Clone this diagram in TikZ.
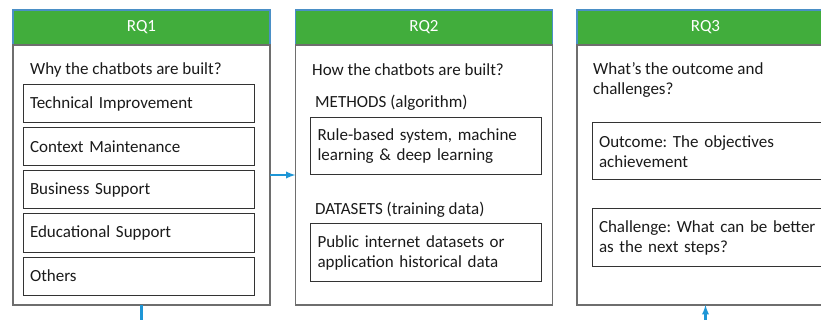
\documentclass[tikz,border=0pt]{standalone}
\usepackage{fontspec}
\setmainfont{Carlito}
\usepackage{tikz}
\usetikzlibrary{shapes}
\usetikzlibrary{arrows}
\usetikzlibrary{positioning}
\frenchspacing

\definecolor{rqgreen}{HTML}{41AD3C}
\definecolor{rqblue}{HTML}{4A8FC6}
\definecolor{rqgray}{HTML}{6E6E6E}
\definecolor{boxline}{HTML}{333333}
\definecolor{flowblue}{HTML}{1E96D6}
\definecolor{txt}{HTML}{1A1A1A}

\begin{document}
\begin{tikzpicture}[x=1pt,y=-1pt]
\tikzstyle{header} = [rectangle, draw=rqblue, line width=1.2pt, fill=rqgreen,
minimum width=257pt, minimum height=35pt, inner sep=0pt, outer sep=0pt,
text=white, font=\fontsize{17}{20}\selectfont]
\tikzstyle{panel} = [rectangle, draw=rqgray, line width=1.5pt,
minimum width=257pt, minimum height=260pt, inner sep=0pt, outer sep=0pt]
\tikzstyle{item} = [rectangle, draw=boxline, line width=1pt, text=txt,
minimum width=231pt, text width=217pt, inner xsep=7pt, inner ysep=0pt,
outer sep=0pt, align=left, font=\fontsize{17}{20}\selectfont]
\tikzstyle{label} = [anchor=west, inner sep=0pt, text=txt, align=left,
font=\fontsize{17}{20}\selectfont]
\tikzstyle{flow} = [draw=flowblue, line width=2.2pt]
\useasboundingbox (0,0) rectangle (821,320);
% RQ1
\node [header] (head1) at (141.5,27.5) {RQ1};
\node [panel, below=0pt of head1] (body1) {};
\node [label] (why) at (30,70) {Why the chatbots are built?};
\node [item, minimum height=38pt, below right=40pt and 10pt of body1.north west] (tech) {Technical Improvement};
\node [item, minimum height=38pt, below=5pt of tech] (context) {Context Maintenance};
\node [item, minimum height=38pt, below=5pt of context] (business) {Business Support};
\node [item, minimum height=38pt, below=5pt of business] (education) {Educational Support};
\node [item, minimum height=38pt, below=5pt of education] (others) {Others};
% RQ2
\node [header] (head2) at (424,27.5) {RQ2};
\node [panel, below=0pt of head2] (body2) {};
\node [label] (how) at (312,70) {How the chatbots are built?};
\node [label] (methods) at (315,103) {METHODS (algorithm)};
\node [item, minimum height=57pt, below right=73pt and 15pt of body2.north west] (algo) {Rule-based system, machine\\learning \& deep learning};
\node [label] (datasets) at (315,210) {DATASETS (training data)};
\node [item, minimum height=57pt, below=49pt of algo] (data) {Public internet datasets or\\application historical data};
% RQ3
\node [header] (head3) at (705.5,27.5) {RQ3};
\node [panel, below=0pt of head3] (body3) {};
\node [label] (what) at (593,80) {What’s the outcome and\\challenges?};
\node [item, minimum height=57pt, below right=78pt and 15pt of body3.north west] (outcome) {Outcome: The objectives\\achievement};
\node [item, minimum height=57pt, below=29pt of outcome] (challenge) {Challenge: What can be better\\as the next steps?};
% connectors
\coordinate [below=20pt of body1.south] (out1);
\coordinate [below=20pt of body3.south] (in3);
\draw[->,>=latex, flow] (body1.east) -- (body2.west);
\draw[flow] (body1.south) -- (out1);
\draw[->,>=latex, flow] (in3) -- (body3.south);
\end{tikzpicture}
\end{document}
